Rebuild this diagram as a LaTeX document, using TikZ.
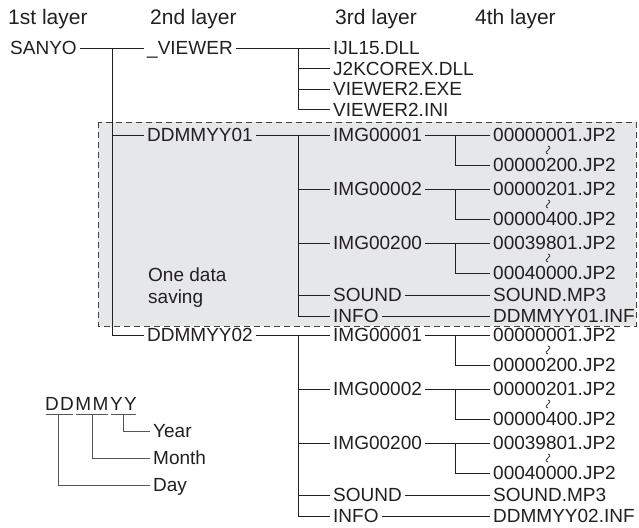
\documentclass[tikz,border=0pt]{standalone}
\usepackage{fontspec}
\setmainfont{Liberation Sans}

\definecolor{boxgray}{HTML}{E6E7E8}
\definecolor{ink}{HTML}{231F20}
\definecolor{legink}{HTML}{555555}

\tikzset{
  tree/.style={draw=ink, line width=0.8pt},
  legline/.style={draw=legink, line width=0.8pt},
  wavy/.style={draw=ink, line width=0.7pt},
  lbl/.style={anchor=west, inner xsep=3pt, inner ysep=0pt, text height=13.5pt, text depth=0pt,
    font=\fontsize{19}{22}\selectfont, text=ink},
  hdr/.style={lbl, inner xsep=0pt, font=\fontsize{21}{24}\selectfont},
  pair/.style={lbl, inner xsep=0pt, anchor=center}
}

\begin{document}
\begin{tikzpicture}[x=1pt, y=-1pt]
		\useasboundingbox (0,0) rectangle (639,527);
		% one data saving box
		\fill[boxgray] (98,122) rectangle (636,326);
		\draw[ink!85, line width=0.8pt, dash pattern=on 6pt off 4pt] (98,122) rectangle (636,326);
		% layer titles
		\node[hdr] (h1) at (8,18) {1st layer};
		\node[hdr] (h2) at (150,18) {2nd layer};
		\node[hdr] (h3) at (335,18) {3rd layer};
		\node[hdr] (h4) at (475,18) {4th layer};
		% root and viewer folder
		\node[lbl] (sanyo) at (7,48) {SANYO};
		\node[lbl] (viewer) at (144,48) {\_VIEWER};
		\coordinate (trunk) at (112,48);
		\coordinate (sv) at (298,48);
		\draw[tree] (sanyo.east) -- (viewer.west);
		\draw[tree] (viewer.east) -- (sv);
		\node[lbl] (ijl) at (330,48) {IJL15.DLL};
		\node[lbl] (j2k) at (330,68.5) {J2KCOREX.DLL};
		\node[lbl] (exe) at (330,89) {VIEWER2.EXE};
		\node[lbl] (ini) at (330,109.5) {VIEWER2.INI};
		\foreach \f in {ijl,j2k,exe,ini}
			\draw[tree] (sv) |- (\f.west);
		% date folders
		\foreach \g/\y in {01/135,02/335}{
			\node[lbl] (d\g) at (144,\y) {DDMMYY\g};
			\coordinate (s\g) at (298,\y);
			\draw[tree] (trunk) |- (d\g.west);
			\draw[tree] (d\g.east) -- (s\g);
			\foreach \im/\fa/\fb/\dy in {00001/00000001/00000200/0,00002/00000201/00000400/54,00200/00039801/00040000/108}{
				\node[lbl] (img\im-\g) at (330,\y+\dy) {IMG\im};
				\node[lbl] (f\fa-\g) at (490,\y+\dy) {\fa.JP2};
				\node[lbl] (f\fb-\g) at (490,\y+\dy+30) {\fb.JP2};
				\coordinate (w\im-\g) at (548,\y+\dy+15);
				\coordinate (j\im-\g) at (455,\y+\dy);
				\draw[wavy] ([yshift=4pt]w\im-\g) .. controls ([xshift=6.5pt,yshift=1.5pt]w\im-\g) and ([xshift=-6.5pt,yshift=-1.5pt]w\im-\g) .. ([yshift=-4pt]w\im-\g);
				\draw[tree] (s\g) |- (img\im-\g.west);
				\draw[tree] (img\im-\g.east) -- (f\fa-\g.west);
				\draw[tree] (j\im-\g) |- (f\fb-\g.west);
			}
			\node[lbl] (snd\g) at (330,\y+160) {SOUND};
			\node[lbl] (mp3\g) at (490,\y+160) {SOUND.MP3};
			\node[lbl] (info\g) at (330,\y+181) {INFO};
			\node[lbl] (inf\g) at (490,\y+181) {DDMMYY\g.INF};
			\draw[tree] (s\g) |- (snd\g.west);
			\draw[tree] (s\g) |- (info\g.west);
			\draw[tree] (snd\g.east) -- (mp3\g.west);
			\draw[tree] (info\g.east) -- (inf\g.west);
		}
		\node[anchor=west, inner sep=0pt, align=left, font=\fontsize{19}{22}\selectfont, text=ink] (onedata) at (148,288) {One data\\saving};
		% date format legend
		\node[pair] (dd) at (59.5,404) {D\kern1.5pt D};
		\node[pair] (mm) at (92,404) {M\kern1.5pt M};
		\node[pair] (yy) at (123.5,404) {Y\kern1.5pt Y};
		\node[lbl] (year) at (150,431) {Year};
		\node[lbl] (month) at (150,458) {Month};
		\node[lbl] (day) at (150,485) {Day};
		\foreach \p in {dd,mm,yy}
			\draw[legline] ([yshift=-3pt,xshift=1pt]\p.south west) -- ([yshift=-3pt,xshift=-1pt]\p.south east);
		\draw[legline] ([yshift=-3pt]yy.south) |- (year.west);
		\draw[legline] ([yshift=-3pt]mm.south) |- (month.west);
		\draw[legline] ([yshift=-3pt,xshift=-1pt]dd.south) |- (day.west);
		\end{tikzpicture}
\end{document}
